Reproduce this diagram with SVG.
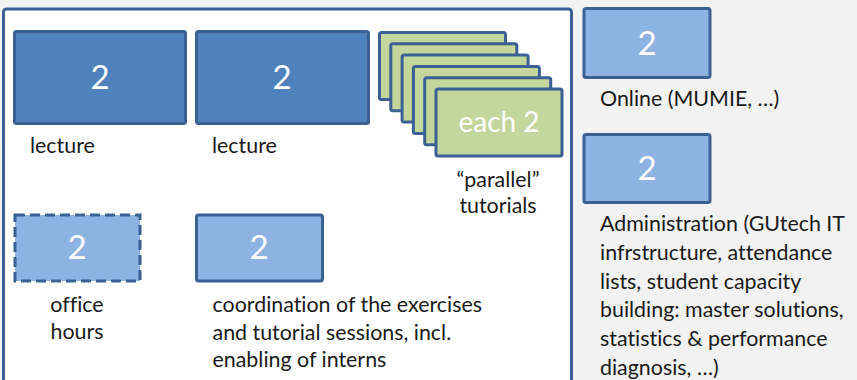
<svg xmlns="http://www.w3.org/2000/svg" width="857" height="380" viewBox="0 0 857 380">
  <style>
    text { font-family: Lato, "Liberation Sans", sans-serif; font-variant-ligatures: none; }
    .panel { fill: #ffffff; stroke: #3b6194; stroke-width: 3; }
    .dark { fill: #4f81bd; stroke: #3b6194; stroke-width: 3; }
    .light { fill: #8db3e2; stroke: #3b6194; stroke-width: 3; }
    .dashed { stroke-dasharray: 10 5; }
    .green { fill: #c3d69b; stroke: #3b6194; stroke-width: 3; }
    .num { font-size: 33px; fill: #ffffff; text-anchor: middle; }
    .each { font-size: 28px; fill: #ffffff; text-anchor: middle; }
    .lbl { font-size: 21.4px; fill: #1a1a1a; }
    .mid { text-anchor: middle; }
  </style>
  <rect x="0" y="0" width="857" height="380" fill="#f2f2f2"/>
  <!-- white frame of the in-class activities -->
  <rect class="panel" x="3.5" y="9" width="568" height="400" rx="3"/>

  <g id="lecture1">
    <rect class="dark" x="14.5" y="31.5" width="171" height="92" rx="2"/>
    <text class="num" x="100" y="89">2</text>
    <text class="lbl" x="30" y="153">lecture</text>
  </g>

  <g id="lecture2">
    <rect class="dark" x="196.5" y="31.5" width="172" height="92" rx="2"/>
    <text class="num" x="282" y="89">2</text>
    <text class="lbl" x="212" y="153">lecture</text>
  </g>

  <g id="tutorials">
    <rect class="green" x="379.5" y="32.5" width="126" height="67" rx="2"/>
    <rect class="green" x="390.8" y="43.8" width="126" height="67" rx="2"/>
    <rect class="green" x="402.1" y="55.1" width="126" height="67" rx="2"/>
    <rect class="green" x="413.4" y="66.4" width="126" height="67" rx="2"/>
    <rect class="green" x="424.7" y="77.7" width="126" height="67" rx="2"/>
    <rect class="green" x="436" y="89" width="126" height="67" rx="2"/>
    <text class="each" x="499" y="132">each 2</text>
    <text class="lbl mid" x="498" y="187">“parallel”</text>
    <text class="lbl mid" x="498" y="213">tutorials</text>
  </g>

  <g id="office-hours">
    <rect class="light dashed" x="15" y="215" width="125" height="66"/>
    <text class="num" x="77" y="259">2</text>
    <text class="lbl mid" x="77" y="312">office</text>
    <text class="lbl mid" x="77" y="339">hours</text>
  </g>

  <g id="coordination">
    <rect class="light" x="196.5" y="215" width="126" height="66" rx="2"/>
    <text class="num" x="259" y="259">2</text>
    <text class="lbl" x="212.5" y="312">coordination of the exercises</text>
    <text class="lbl" x="212.5" y="340">and tutorial sessions, incl.</text>
    <text class="lbl" x="212.5" y="367">enabling of interns</text>
  </g>

  <g id="online">
    <rect class="light" x="584" y="8.5" width="126" height="69" rx="2"/>
    <text class="num" x="647" y="55">2</text>
    <text class="lbl" x="600" y="106">Online (MUMIE, …)</text>
  </g>

  <g id="administration">
    <rect class="light" x="584" y="134.5" width="126" height="68" rx="2"/>
    <text class="num" x="647" y="180">2</text>
    <text class="lbl" x="600" y="231">Administration (GUtech IT</text>
    <text class="lbl" x="600" y="260">infrstructure, attendance</text>
    <text class="lbl" x="600" y="289">lists, student capacity</text>
    <text class="lbl" x="600" y="317">building: master solutions,</text>
    <text class="lbl" x="600" y="346">statistics &amp; performance</text>
    <text class="lbl" x="600" y="375">diagnosis, …)</text>
  </g>
</svg>
